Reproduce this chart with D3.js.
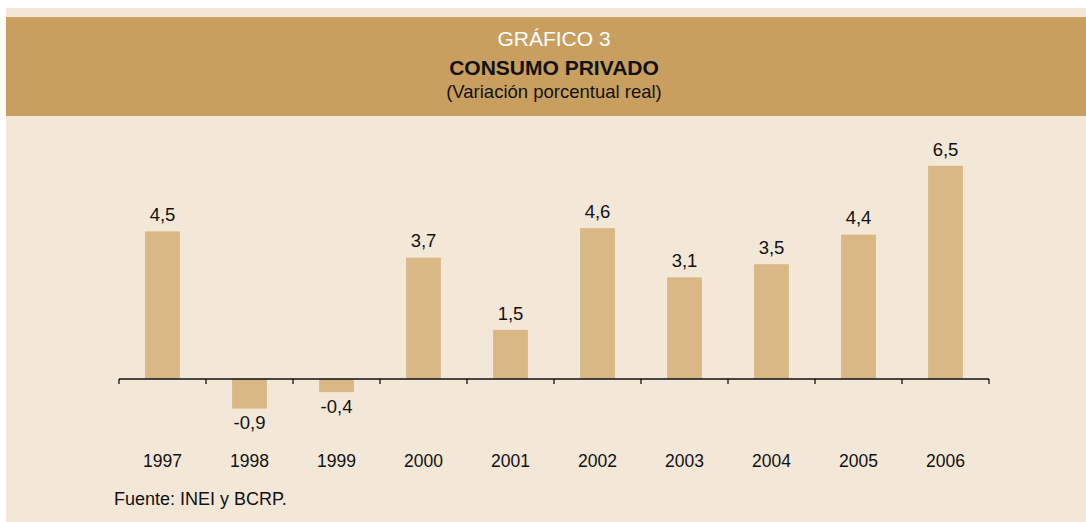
<!DOCTYPE html>
<html>
<head>
<meta charset="utf-8">
<script src="https://cdn.jsdelivr.net/npm/d3@7"></script>
<style>
  body { margin: 0; background: #fff; }
  svg { display: block; font-family: "Liberation Sans", Arial, sans-serif; }
</style>
</head>
<body>
<svg id="chart" width="1086" height="522"></svg>
<script>
let years = ['1997', '1998', '1999', '2000', '2001', '2002', '2003', '2004', '2005', '2006'];
let values = [4.5, -0.9, -0.4, 3.7, 1.5, 4.6, 3.1, 3.5, 4.4, 6.5];

let svg = d3.select('#chart');

// panel and header band
svg.append('rect')
	.attr('x', 6).attr('y', 8)
	.attr('width', 1080).attr('height', 514)
	.attr('fill', '#f3e7d8');

svg.append('rect')
	.attr('x', 6).attr('y', 17)
	.attr('width', 1080).attr('height', 99)
	.attr('fill', '#c99f5f');

let titles = [
	{text: 'GRÁFICO 3', y: 46, size: 21, weight: 'normal', fill: '#fff'},
	{text: 'CONSUMO PRIVADO', y: 74.5, size: 21, weight: 'bold', fill: '#111'},
	{text: '(Variación porcentual real)', y: 98, size: 18.5, weight: 'normal', fill: '#111'}
];

svg.selectAll('text.title')
	.data(titles)
	.enter()
	.append('text')
	.attr('class', 'title')
	.attr('x', 554)
	.attr('y', d => d.y)
	.attr('text-anchor', 'middle')
	.attr('font-size', d => d.size)
	.attr('font-weight', d => d.weight)
	.attr('fill', d => d.fill)
	.text(d => d.text);

let x = d3.scaleBand()
	.domain(years)
	.range([119, 989])
	.paddingInner(0.6)
	.paddingOuter(0.3);

let y = d3.scaleLinear()
	.domain([-1, 6.5])
	.range([411.8, 165.8]);

let fmt = d => d3.format('.1f')(d).replace('.', ',').replace('\u2212', '-');

let g = svg.append('g');

g.selectAll('rect.bar')
	.data(values)
	.enter()
	.append('rect')
	.attr('class', 'bar')
	.attr('x', (d, i) => x(years[i]))
	.attr('width', x.bandwidth())
	.attr('y', d => y(Math.max(0, d)))
	.attr('height', d => Math.abs(y(d) - y(0)))
	.attr('fill', '#d9b886');

g.selectAll('text.val')
	.data(values)
	.enter()
	.append('text')
	.attr('class', 'val')
	.attr('x', (d, i) => x(years[i]) + x.bandwidth() / 2)
	.attr('y', d => d >= 0 ? y(d) - 10.3 : y(d) + 20.5)
	.attr('text-anchor', 'middle')
	.attr('font-size', 18.5)
	.attr('fill', '#111')
	.text(fmt);

// baseline with ticks between bands
let axis = svg.append('g')
	.attr('transform', 'translate(0,' + y(0) + ')');

axis.append('line')
	.attr('x1', 119).attr('x2', 989)
	.attr('stroke', '#111').attr('stroke-width', 1.3);

let tickPos = d3.range(years.length + 1).map(i => 119 + i * (870 / years.length));

axis.selectAll('line.tick')
	.data(tickPos)
	.enter()
	.append('line')
	.attr('class', 'tick')
	.attr('x1', d => d).attr('x2', d => d)
	.attr('y1', 0).attr('y2', 5)
	.attr('stroke', '#111').attr('stroke-width', 1.3);

svg.selectAll('text.year')
	.data(years)
	.enter()
	.append('text')
	.attr('class', 'year')
	.attr('x', d => x(d) + x.bandwidth() / 2)
	.attr('y', 467)
	.attr('text-anchor', 'middle')
	.attr('font-size', 17.5)
	.attr('fill', '#111')
	.text(d => d);

svg.append('text')
	.attr('x', 114)
	.attr('y', 505)
	.attr('font-size', 18)
	.attr('fill', '#111')
	.text('Fuente: INEI y BCRP.');
</script>
</body>
</html>
